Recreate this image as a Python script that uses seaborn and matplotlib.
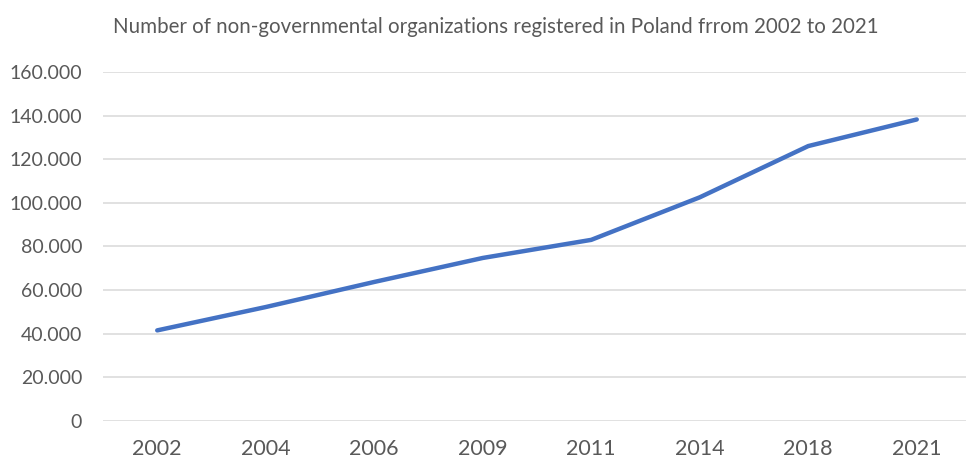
import matplotlib
matplotlib.use("Agg")
import matplotlib.pyplot as plt
import seaborn as sns
import pandas as pd
from matplotlib.ticker import FuncFormatter, MultipleLocator

years = ["2002", "2004", "2006", "2009", "2011", "2014", "2018", "2021"]
organizations = [41500, 52200, 63700, 74700, 83000, 102500, 126000, 138200]
title = "Number of non-governmental organizations registered in Poland frrom 2002 to 2021"

df = pd.DataFrame({"year": years, "count": organizations})

sns.set_theme(style="white")
plt.rcParams["font.family"] = ["Lato", "DejaVu Sans"]

fig = plt.figure(figsize=(9.67, 4.61), dpi=100)
ax = fig.add_axes([0.1065, 0.087, 0.892, 0.757])

sns.lineplot(data=df, x="year", y="count", ax=ax, color="#4472C4",
             linewidth=3.2, sort=False, solid_capstyle="round")

ax.set_ylim(0, 160000)
ax.set_xlim(-0.5, 7.45)
ax.yaxis.set_major_locator(MultipleLocator(20000))
ax.yaxis.set_major_formatter(FuncFormatter(lambda v, p: f"{int(v):,}".replace(",", ".")))
ax.grid(axis="y", color="#d9d9d9", linewidth=1.1)
ax.set_axisbelow(True)
for s in ax.spines.values():
    s.set_visible(False)
ax.tick_params(axis="both", length=0, colors="#595959")
ax.tick_params(axis="y", pad=15, labelsize=14)
ax.tick_params(axis="x", pad=13, labelsize=15.5)
ax.set_xlabel("")
ax.set_ylabel("")

fig.text(0.513, 0.941, title, ha="center", va="center", fontsize=14.8, color="#595959")

fig.savefig("out.png", dpi=100)
